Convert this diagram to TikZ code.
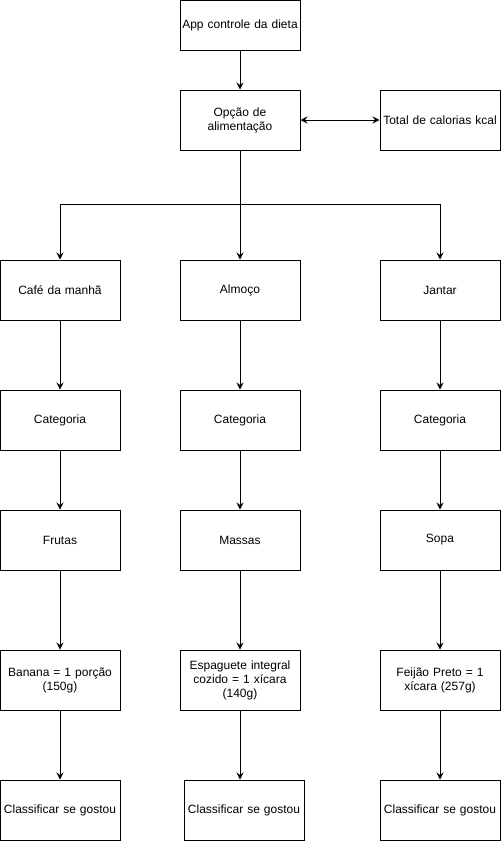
\documentclass[tikz,border=0pt]{standalone}
\usepackage{fontspec}
\setmainfont{Liberation Sans}
\usetikzlibrary{arrows.meta}
\begin{document}
\begin{tikzpicture}[x=1pt,y=-1pt,
  box/.style={draw,line width=1pt,minimum width=120pt,minimum height=60pt,inner sep=2pt,align=center,font=\fontsize{12}{14}\selectfont,text width=116pt},
  arr/.style={line width=1pt,-{Stealth[length=7pt,width=7pt,inset=2.5pt]}},
  darr/.style={line width=1pt,{Stealth[length=7pt,width=7pt,inset=2.5pt]}-{Stealth[length=7pt,width=7pt,inset=2.5pt]}}]
\useasboundingbox (0,0) rectangle (501,841);
\node[box,minimum height=50pt] (app) at (240,25) {App controle da dieta};
\node[box] (op) at (240,120) {Opção de\\alimentação};
\node[box] (tot) at (440,120) {Total de calorias kcal};
\node[box] (cafe) at (60,290) {Café da manhã};
\node[box] (alm) at (240,290) {Almoço};
\node[box] (jan) at (440,290) {Jantar};
\node[box] (c1) at (60,420) {Categoria};
\node[box] (c2) at (240,420) {Categoria};
\node[box] (c3) at (440,420) {Categoria};
\node[box] (f1) at (60,540) {Frutas};
\node[box] (f2) at (240,540) {Massas};
\node[box] (f3) at (440,540) {Sopa};
\node[box] (b1) at (60,680) {Banana = 1 porção\\(150g)};
\node[box] (b2) at (240,680) {Espaguete integral\\cozido = 1 xícara\\(140g)};
\node[box] (b3) at (440,680) {Feijão Preto = 1\\xícara (257g)};
\node[box] (k1) at (60,810) {Classificar se gostou};
\node[box] (k2) at (244,810) {Classificar se gostou};
\node[box] (k3) at (440,810) {Classificar se gostou};
\coordinate (bus) at (240,204);
\draw[arr] (app) -- (op);
\draw[darr] (op) -- (tot);
\draw[arr] (op.south) -- (alm.north);
\draw[arr] (op.south) |- (bus) -| (cafe.north);
\draw[arr] (bus) -| (jan.north);
\foreach \a/\b in {cafe/c1,alm/c2,jan/c3,c1/f1,c2/f2,c3/f3,f1/b1,f2/b2,f3/b3,b1/k1,b3/k3}
  \draw[arr] (\a) -- (\b);
\draw[arr] (b2.south) -- (b2.south |- k2.north);
\end{tikzpicture}
\end{document}
